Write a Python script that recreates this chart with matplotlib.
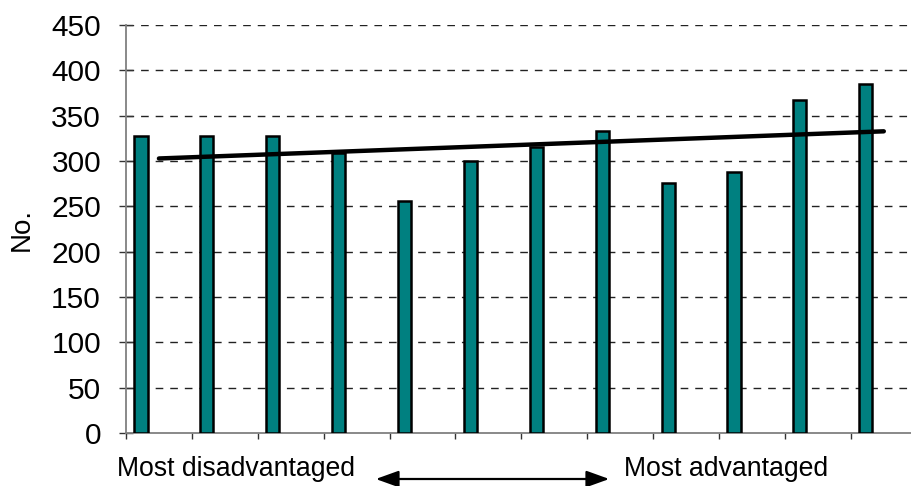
import numpy as np
import matplotlib.pyplot as plt
from matplotlib.patches import FancyArrowPatch

plt.rcParams['font.family'] = ['Liberation Sans', 'DejaVu Sans']

# Data
categories = np.arange(1, 13)
values = [328, 328, 328, 309, 256, 300, 315, 333, 276, 288, 367, 385]
yticks = list(range(0, 451, 50))
left_label = 'Most disadvantaged'
right_label = 'Most advantaged'
ylabel = 'No.'

fig = plt.figure(figsize=(9.11, 4.86), dpi=100)
# axes run a little past the right edge of the figure, as in the reference
ax = fig.add_axes([0.1383, 0.109, 0.868, 0.8396])

# bars sit to the left of each category centre (clustered layout)
ax.bar(categories - 0.273, values, width=0.2, color='#008080',
       edgecolor='black', linewidth=1.8, zorder=3)

# linear trend line
slope, intercept = np.polyfit(categories, values, 1)
xt = np.array([categories[0], categories[-1]])
ax.plot(xt, slope * xt + intercept, color='black', linewidth=3.2,
        solid_capstyle='round', zorder=4)

ax.set_xlim(0.5, 12.5)
ax.set_ylim(0, 450)
ax.set_yticks(yticks)
ax.set_yticklabels([str(t) for t in yticks], fontsize=21.5)
ax.set_xticks(np.arange(0.5, 13, 1))
ax.set_xticklabels([])

for y in yticks[1:]:
    ax.axhline(y, color='#222222', linewidth=1.0, linestyle=(0, (5.5, 5)), zorder=1)

for side in ['top', 'right']:
    ax.spines[side].set_visible(False)
for side in ['left', 'bottom']:
    ax.spines[side].set_color('#808080')
    ax.spines[side].set_linewidth(1.3)

ax.tick_params(axis='y', direction='inout', length=10, width=1, color='#333333', pad=13)
ax.tick_params(axis='x', direction='out', length=4, width=1, color='#333333')

ax.set_ylabel(ylabel, fontsize=20, va='center')
ax.yaxis.set_label_coords(-0.1315, 0.5)

# bottom labels with a double-headed arrow between them
fig.text(236 / 911, 1 - 469 / 486, left_label, fontsize=19.2, ha='center', va='center')
fig.text(726 / 911, 1 - 469 / 486, right_label, fontsize=19.2, ha='center', va='center')
fig.patches.append(FancyArrowPatch(
    (373 / 911, 1 - 479 / 486), (612 / 911, 1 - 479 / 486),
    transform=fig.transFigure,
    arrowstyle='<|-|>,head_length=1.0,head_width=0.36', mutation_scale=14,
    color='black', linewidth=1.6))

fig.savefig('out.png', dpi=100)
